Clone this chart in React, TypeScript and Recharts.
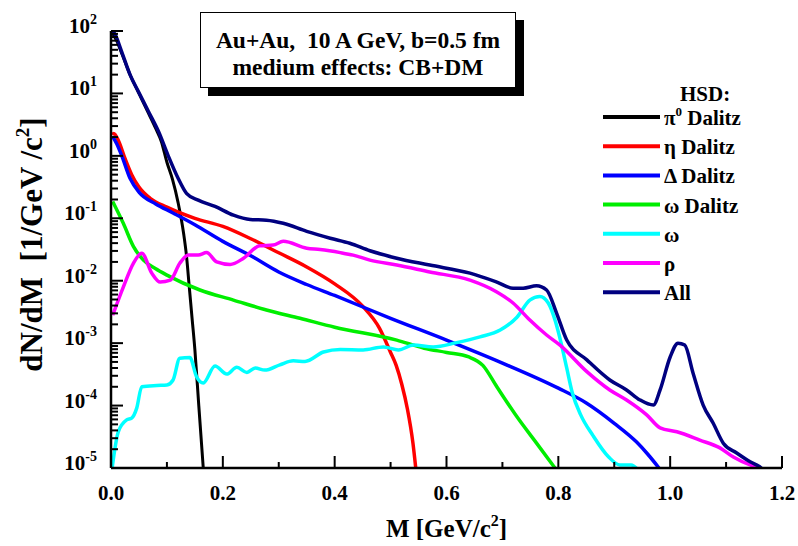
import React from 'react';
import {Legend, Line, LineChart, XAxis, YAxis} from 'recharts';

const SERIF = 'Liberation Serif, Tinos, DejaVu Serif, Noto Serif, serif';

// invariant mass M [GeV/c^2] and dN/dM [1/(GeV/c^2)] per dilepton source
const pi0Mass = [0.0, 0.01, 0.02, 0.035, 0.05, 0.065, 0.08, 0.09, 0.1, 0.11, 0.12, 0.13, 0.135, 0.14, 0.145, 0.15, 0.157, 0.165];
const pi0Yield = [100, 70, 42, 19, 10, 5.25, 2.75, 1.7, 0.79, 0.42, 0.178, 0.056, 0.025, 0.0079, 0.0025, 7.9e-4, 1e-4, 1e-5];

const etaMass = [0.002, 0.005, 0.013, 0.025, 0.037, 0.05, 0.07, 0.1, 0.15, 0.2, 0.25, 0.3, 0.35, 0.4, 0.45, 0.48, 0.5, 0.51, 0.52, 0.53, 0.54, 0.545];
const etaYield = [2.19, 2.29, 1.78, 0.91, 0.5, 0.316, 0.209, 0.151, 0.1, 0.074, 0.047, 0.028, 0.0166, 0.0089, 0.0039, 0.00174, 7.1e-4, 4.4e-4, 2.2e-4, 8.9e-5, 2.5e-5, 1e-5];

const deltaMass = [0.003, 0.01, 0.019, 0.034, 0.05, 0.08, 0.11, 0.15, 0.2, 0.25, 0.3, 0.35, 0.4, 0.5, 0.6, 0.7, 0.8, 0.85, 0.9, 0.94, 0.96, 0.98];
const deltaYield = [2.04, 1.58, 1.02, 0.437, 0.263, 0.17, 0.123, 0.079, 0.0427, 0.0251, 0.0138, 0.0087, 0.0058, 0.0025, 0.00112, 4.8e-4, 1.9e-4, 1.1e-4, 5.2e-5, 2.6e-5, 1.66e-5, 1e-5];

const omegaDalitzMass = [0.003, 0.022, 0.04, 0.058, 0.08, 0.1, 0.159, 0.219, 0.278, 0.338, 0.4, 0.511, 0.56, 0.6, 0.64, 0.665, 0.69, 0.726, 0.761, 0.794];
const omegaDalitzYield = [0.186, 0.083, 0.0355, 0.0214, 0.0155, 0.0123, 0.0071, 0.0049, 0.0034, 0.0025, 0.0018, 0.00112, 8.3e-4, 7.1e-4, 6.0e-4, 4.4e-4, 2.0e-4, 6.6e-5, 2.5e-5, 1e-5];

const omegaMass = [0.002, 0.013, 0.028, 0.037, 0.046, 0.055, 0.082, 0.1, 0.111, 0.123, 0.141, 0.153, 0.165, 0.186, 0.207, 0.225, 0.243, 0.258, 0.275, 0.302, 0.326, 0.347, 0.38, 0.41, 0.451, 0.487, 0.514, 0.541, 0.576, 0.618, 0.66, 0.696, 0.726, 0.749, 0.767, 0.782, 0.795, 0.805, 0.815, 0.825, 0.84, 0.862, 0.89, 0.91, 0.93, 0.945];
const omegaYield = [1e-5, 3.8e-5, 5.9e-5, 6.3e-5, 9.1e-5, 2.0e-4, 2.1e-4, 2.14e-4, 2.57e-4, 5.75e-4, 5.9e-4, 2.9e-4, 2.3e-4, 4.3e-4, 3.2e-4, 4.1e-4, 3.4e-4, 4.0e-4, 3.7e-4, 4.5e-4, 5.2e-4, 5.1e-4, 7.2e-4, 7.9e-4, 7.8e-4, 8.7e-4, 7.8e-4, 9.3e-4, 8.7e-4, 1.02e-3, 1.26e-3, 1.62e-3, 2.6e-3, 4.9e-3, 5.6e-3, 4.4e-3, 2.2e-3, 1e-3, 4e-4, 1.6e-4, 7.1e-5, 3.3e-5, 1.5e-5, 1.12e-5, 1.12e-5, 8.9e-6];

const rhoMass = [0.003, 0.022, 0.04, 0.055, 0.073, 0.088, 0.106, 0.123, 0.138, 0.156, 0.171, 0.189, 0.213, 0.237, 0.266, 0.29, 0.308, 0.35, 0.374, 0.41, 0.433, 0.463, 0.511, 0.57, 0.642, 0.69, 0.719, 0.749, 0.779, 0.803, 0.851, 0.892, 0.922, 0.958, 0.982, 1.012, 1.053, 1.089, 1.113, 1.143, 1.16];
const rhoYield = [0.0028, 0.0079, 0.019, 0.0275, 0.0132, 0.0095, 0.0102, 0.019, 0.0257, 0.0257, 0.0282, 0.02, 0.0182, 0.0229, 0.0363, 0.0372, 0.0427, 0.0331, 0.0316, 0.0282, 0.0257, 0.0214, 0.0178, 0.0138, 0.0102, 0.0066, 0.0044, 0.00234, 0.00135, 9.3e-4, 3.5e-4, 1.78e-4, 1.23e-4, 7.1e-5, 4.4e-5, 3.8e-5, 2.8e-5, 2.1e-5, 1.5e-5, 1.12e-5, 1e-5];

const allMass = [0.003, 0.007, 0.019, 0.034, 0.049, 0.067, 0.085, 0.102, 0.12, 0.135, 0.156, 0.186, 0.219, 0.249, 0.278, 0.308, 0.35, 0.392, 0.427, 0.463, 0.511, 0.57, 0.642, 0.69, 0.719, 0.737, 0.761, 0.779, 0.797, 0.815, 0.851, 0.892, 0.922, 0.946, 0.97, 0.982, 1.0, 1.014, 1.026, 1.041, 1.059, 1.077, 1.095, 1.119, 1.143, 1.16, 1.17];
const allYield = [100, 89, 46.8, 20, 10.7, 5.13, 2.45, 1.02, 0.437, 0.251, 0.195, 0.155, 0.112, 0.0955, 0.0933, 0.0832, 0.0617, 0.0479, 0.0398, 0.0302, 0.0229, 0.0178, 0.0132, 0.0095, 0.0076, 0.0076, 0.0083, 0.0071, 0.003, 0.00112, 5.4e-4, 2.57e-4, 1.78e-4, 1.23e-4, 1.02e-4, 1.78e-4, 6.0e-4, 1.0e-3, 9.3e-4, 3.3e-4, 1.02e-4, 5.2e-5, 2.5e-5, 1.74e-5, 1.26e-5, 1.05e-5, 8.7e-6];

const X_TICKS = [0, 0.1, 0.2, 0.3, 0.4, 0.5, 0.6, 0.7, 0.8, 0.9, 1.0, 1.1, 1.2];
const Y_DECADES = [1e-5, 1e-4, 1e-3, 1e-2, 1e-1, 1, 10, 100];
const Y_MINOR_STEPS = [2, 3, 4, 5, 6, 7, 8, 9];
const Y_TICKS = [
  ...Y_DECADES,
  ...Y_DECADES.slice(0, -1).flatMap(d => Y_MINOR_STEPS.map(k => k * d)),
].sort((a, b) => a - b);

const toPoints = (mass: number[], yields: number[]) =>
  mass.map((m, i) => ({m, y: yields[i]}));

interface Series {
  key: string;
  symbol: string;
  sup?: string;
  tail: string;
  color: string;
  width: number;
  data: {m: number; y: number}[];
}

const SERIES: Series[] = [
  {key: 'pi0', symbol: 'π', sup: '0', tail: ' Dalitz', color: '#000000', width: 3, data: toPoints(pi0Mass, pi0Yield)},
  {key: 'eta', symbol: 'η', tail: ' Dalitz', color: '#ff0000', width: 3.5, data: toPoints(etaMass, etaYield)},
  {key: 'delta', symbol: 'Δ', tail: ' Dalitz', color: '#0000ff', width: 3.5, data: toPoints(deltaMass, deltaYield)},
  {key: 'omegaDalitz', symbol: 'ω', tail: ' Dalitz', color: '#00ee00', width: 3.5, data: toPoints(omegaDalitzMass, omegaDalitzYield)},
  {key: 'omega', symbol: 'ω', tail: '', color: '#00ffff', width: 3.5, data: toPoints(omegaMass, omegaYield)},
  {key: 'rho', symbol: 'ρ', tail: '', color: '#ff00ff', width: 3.5, data: toPoints(rhoMass, rhoYield)},
  {key: 'all', symbol: 'All', tail: '', color: '#000080', width: 3.5, data: toPoints(allMass, allYield)},
];

const isDecade = (v: number) => Math.abs(Math.log10(v) - Math.round(Math.log10(v))) < 1e-6;
const isEvenTenth = (v: number) => Math.round(v * 10) % 2 === 0;

// ticks all point into the frame; labels only on the left and bottom
const BottomTick = ({x, y, payload}: any) => {
  const major = isEvenTenth(payload.value);
  return (
    <g>
      <line x1={x} x2={x} y1={y} y2={y - (major ? 12 : 6)} stroke="#000" strokeWidth={2} />
      {major && (
        <text x={x} y={y + 32} textAnchor="middle" fontFamily={SERIF} fontWeight="bold" fontSize={21} fill="#000">
          {payload.value.toFixed(1)}
        </text>
      )}
    </g>
  );
};

const TopTick = ({x, y, payload}: any) => (
  <line x1={x} x2={x} y1={y} y2={y + (isEvenTenth(payload.value) ? 12 : 6)} stroke="#000" strokeWidth={2} />
);

const LeftTick = ({x, y, payload}: any) => {
  const major = isDecade(payload.value);
  const exp = Math.round(Math.log10(payload.value));
  return (
    <g>
      <line x1={x} x2={x + (major ? 12 : 7)} y1={y} y2={y} stroke="#000" strokeWidth={2} />
      {major && (
        <text x={x - 14} y={y + 2} textAnchor="end" fontFamily={SERIF} fontWeight="bold" fontSize={21} fill="#000">
          10<tspan dy={-9} fontSize={14}>{exp}</tspan>
        </text>
      )}
    </g>
  );
};

const RightTick = ({x, y, payload}: any) => (
  <line x1={x} x2={x - (isDecade(payload.value) ? 12 : 7)} y1={y} y2={y} stroke="#000" strokeWidth={2} />
);

const XTitle = ({viewBox}: any) => (
  <text x={viewBox.x + viewBox.width / 2} y={viewBox.y + 69} textAnchor="middle"
        fontFamily={SERIF} fontWeight="bold" fontSize={25} fill="#000">
    M [GeV/c<tspan dy={-11} fontSize={16}>2</tspan><tspan dy={11}>]</tspan>
  </text>
);

const YTitle = ({viewBox}: any) => {
  const cx = 42;
  const cy = viewBox.y + viewBox.height / 2 - 5;
  return (
    <text x={cx} y={cy} transform={`rotate(-90 ${cx} ${cy})`} textAnchor="middle"
          fontFamily={SERIF} fontWeight="bold" fontSize={31} fill="#000" style={{whiteSpace: 'pre'}}>
      dN/dM  [1/GeV /c<tspan dy={-13} fontSize={19}>2</tspan><tspan dy={13}>]</tspan>
    </text>
  );
};

const renderLegend = () => (
  <svg width={190} height={230} style={{overflow: 'visible'}}>
    <text x={80} y={21} fontFamily={SERIF} fontWeight="bold" fontSize={21} fill="#000">HSD:</text>
    {SERIES.map((s, i) => {
      const ly = 37 + i * 29.2;
      return (
        <g key={s.key}>
          <line x1={3} x2={60} y1={ly} y2={ly} stroke={s.color} strokeWidth={4} />
          <text x={64} y={ly + 8} fontFamily={SERIF} fontWeight="bold" fontSize={21} fill="#000" style={{whiteSpace: 'pre'}}>
            {s.symbol}
            {s.sup && <tspan dy={-9} fontSize={13}>{s.sup}</tspan>}
            {s.sup ? <tspan dy={9}>{s.tail}</tspan> : s.tail}
          </text>
        </g>
      );
    })}
  </svg>
);

const App: React.FC = () => (
  <div style={{position: 'absolute', left: 0, top: 0, width: 798, height: 546, background: '#fff'}}>
    <LineChart width={798} height={546} margin={{top: 31, right: 16, bottom: 0, left: 0}}>
      <XAxis xAxisId={0} dataKey="m" type="number" domain={[0, 1.2]} ticks={X_TICKS} interval={0}
             height={78} tickSize={0} tickMargin={0} tickLine={false} tick={<BottomTick />}
             axisLine={{stroke: '#000', strokeWidth: 2.5}} label={<XTitle />} />
      <XAxis xAxisId="top" orientation="top" dataKey="m" type="number" domain={[0, 1.2]} ticks={X_TICKS}
             interval={0} height={0} tickSize={0} tickMargin={0} tickLine={false} tick={<TopTick />}
             axisLine={{stroke: '#000', strokeWidth: 2.5}} />
      <YAxis yAxisId={0} type="number" scale="log" domain={[1e-5, 100]} allowDataOverflow ticks={Y_TICKS}
             interval={0} width={111} tickSize={0} tickMargin={0} tickLine={false} tick={<LeftTick />}
             axisLine={{stroke: '#000', strokeWidth: 2.5}} label={<YTitle />} />
      <YAxis yAxisId="right" orientation="right" type="number" scale="log" domain={[1e-5, 100]} allowDataOverflow
             ticks={Y_TICKS} interval={0} width={0} tickSize={0} tickMargin={0} tickLine={false} tick={<RightTick />}
             axisLine={{stroke: '#000', strokeWidth: 2.5}} />
      {SERIES.map(s => (
        <Line key={s.key} xAxisId={0} yAxisId={0} data={s.data} dataKey="y" type="monotone" stroke={s.color}
              strokeWidth={s.width} dot={false} activeDot={false} isAnimationActive={false} />
      ))}
      <Legend layout="vertical" align="center" verticalAlign="middle" content={renderLegend}
              wrapperStyle={{left: 600, top: 80, width: 190, height: 230}} />
    </LineChart>
    <div style={{
      position: 'absolute', left: 200, top: 12, width: 314, height: 60,
      border: '1.5px solid #000', background: '#fff', boxShadow: '8px 8px 0 #000',
      fontFamily: SERIF, fontWeight: 'bold', fontSize: 23.5, textAlign: 'center',
      lineHeight: '27px', paddingTop: 14, boxSizing: 'content-box', whiteSpace: 'pre',
    }}>
      {'Au+Au,  10 A GeV, b=0.5 fm\nmedium effects: CB+DM'}
    </div>
  </div>
);

export default App;
